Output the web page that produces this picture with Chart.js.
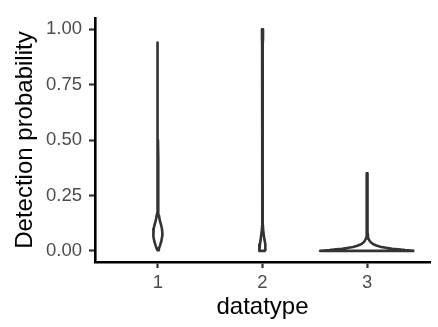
<!DOCTYPE html>
<html>
<head>
<meta charset="utf-8">
<script src="https://cdn.jsdelivr.net/npm/chart.js@4.4.1/dist/chart.umd.min.js"></script>
<style>
  html, body { margin: 0; padding: 0; background: #ffffff; }
  #wrap { width: 438px; height: 327px; position: relative; }
</style>
</head>
<body>
<div id="wrap"><canvas id="c" width="438" height="327"></canvas></div>
<script>
// ---- data ----
const categories = ['1', '2', '3'];
const yTickValues = [0, 0.25, 0.5, 0.75, 1];
const yTickLabels = ['0.00', '0.25', '0.50', '0.75', '1.00'];

// violin 1: probability levels and relative density (1 = widest violin)
const v1Y = [0.003, 0.01, 0.025, 0.045, 0.065, 0.082, 0.1, 0.12, 0.14, 0.16, 0.175, 0.2, 0.25, 0.3, 0.35, 0.39, 0.42, 0.5, 0.7, 0.94];
const v1D = [0.008, 0.022, 0.048, 0.076, 0.092, 0.096, 0.088, 0.066, 0.04, 0.024, 0.016, 0.012, 0.01, 0.009, 0.008, 0.007, 0.004, 0.003, 0.003, 0.003];

// violin 2
const v2Y = [0, 0.01, 0.03, 0.06, 0.09, 0.12, 0.15, 0.2, 0.5, 0.9, 0.93, 0.96, 1.0];
const v2D = [0.068, 0.066, 0.054, 0.034, 0.016, 0.006, 0.004, 0.003, 0.003, 0.004, 0.008, 0.011, 0.011];

// violin 3
const v3Y = [0, 0.002, 0.004, 0.007, 0.01, 0.014, 0.018, 0.023, 0.03, 0.038, 0.046, 0.055, 0.065, 0.08, 0.1, 0.15, 0.25, 0.35];
const v3D = [1.0, 0.92, 0.8, 0.66, 0.53, 0.4, 0.3, 0.21, 0.13, 0.08, 0.05, 0.03, 0.018, 0.012, 0.009, 0.007, 0.006, 0.006];

const violinYs = [v1Y, v2Y, v3Y];
const violinDs = [v1D, v2D, v3D];
const maxHalfWidth = 0.45; // ggplot default width 0.9

function violinOutline(center, ys, ds) {
  const pts = [];
  for (let i = 0; i < ys.length; i++) pts.push({ x: center + maxHalfWidth * ds[i], y: ys[i] });
  for (let i = ys.length - 1; i >= 0; i--) pts.push({ x: center - maxHalfWidth * ds[i], y: ys[i] });
  pts.push({ x: center + maxHalfWidth * ds[0], y: ys[0] });
  return pts;
}

const datasets = categories.map((cat, i) => ({
  label: cat,
  data: violinOutline(i + 1, violinYs[i], violinDs[i]),
  showLine: true,
  borderColor: '#333333',
  backgroundColor: '#ffffff',
  borderWidth: 2.6,
  pointRadius: 0,
  tension: 0,
  fill: false,
  borderJoinStyle: 'round'
}));

const FONT = "'Liberation Sans', Arial, sans-serif";

new Chart(document.getElementById('c'), {
  type: 'scatter',
  data: { datasets },
  options: {
    responsive: false,
    animation: false,
    devicePixelRatio: 1,
    layout: { padding: { top: 8.5, right: 8, left: 0, bottom: 0 } },
    plugins: { legend: { display: false }, tooltip: { enabled: false } },
    scales: {
      x: {
        type: 'linear',
        min: 0.4,
        max: 3.6,
        afterBuildTicks: (s) => { s.ticks = categories.map((c, i) => ({ value: i + 1 })); },
        afterFit: (s) => { s.height = 65; },
        ticks: {
          callback: (v) => categories[Math.round(v) - 1],
          color: '#4D4D4D',
          font: { family: FONT, size: 18.5 },
          padding: 4,
          maxRotation: 0
        },
        grid: { drawOnChartArea: false, drawTicks: true, tickLength: 6, tickColor: '#333333', tickWidth: 2.2, color: '#333333' },
        border: { display: true, color: '#000000', width: 2.6 },
        title: { display: true, text: 'datatype', color: '#000000', font: { family: FONT, size: 24 }, padding: { top: 0, bottom: 5 } }
      },
      y: {
        type: 'linear',
        min: -0.05,
        max: 1.05,
        afterBuildTicks: (s) => { s.ticks = yTickValues.map(v => ({ value: v })); },
        afterFit: (s) => { s.width = 95; },
        ticks: {
          callback: (v) => yTickLabels[yTickValues.indexOf(v)],
          color: '#4D4D4D',
          font: { family: FONT, size: 18.5 },
          padding: 7
        },
        grid: { drawOnChartArea: false, drawTicks: true, tickLength: 6, tickColor: '#333333', tickWidth: 2.2, color: '#333333' },
        border: { display: true, color: '#000000', width: 2.6 },
        title: { display: true, text: 'Detection probability', color: '#000000', font: { family: FONT, size: 24 }, padding: { top: 10.5, bottom: 0 } }
      }
    }
  }
});
</script>
</body>
</html>
